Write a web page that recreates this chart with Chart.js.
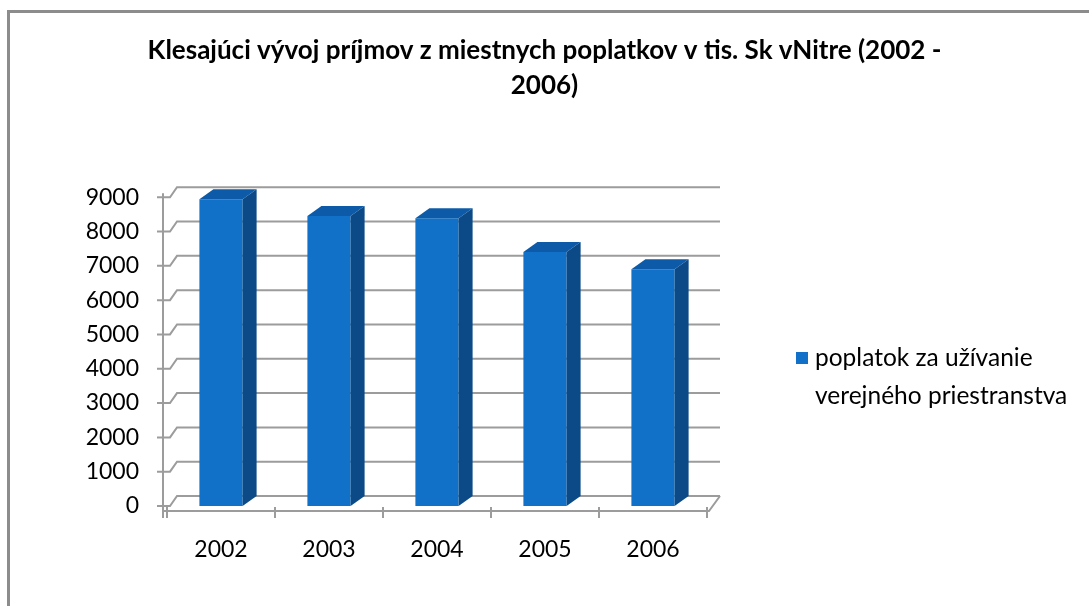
<!DOCTYPE html>
<html>
<head>
<meta charset="utf-8">
<script src="https://cdn.jsdelivr.net/npm/chart.js@4.4.0/dist/chart.umd.min.js"></script>
<style>
html, body { margin: 0; padding: 0; background: #fff; }
#wrap { position: relative; width: 1089px; height: 606px; overflow: hidden; }
#ram { position: absolute; left: 7px; top: 10px; width: 1200px; height: 700px;
       border-top: 3px solid #8c8c8c; border-left: 3px solid #8c8c8c; }
canvas { position: absolute; left: 0; top: 0; }
</style>
</head>
<body>
<div id="wrap">
	<canvas id="prijmy" width="1089" height="606"></canvas>
	<div id="ram"></div>
</div>
<script>
// udaje
const roky = ['2002', '2003', '2004', '2005', '2006'];
const poplatok = [8940, 8450, 8390, 7400, 6900];
const nazovRady = 'poplatok za užívanie verejného priestranstva';
const nadpis = ['Klesajúci vývoj príjmov z miestnych poplatkov v tis. Sk vNitre (2002 -', '2006)'];
const osMin = 0;
const osMax = 9000;
const osKrok = 1000;

const modra = '#1170c8';
const modraBok = '#0b4a86';
const modraVrch = '#0d5ba8';
const sediva = '#9c9c9c';
const pismo = 'Lato';

// zadna stena, bocna stena a podlaha
const stena = {
	id: 'stena',
	beforeDatasetsDraw(chart){
		const {ctx, chartArea: a, scales: {y}} = chart;
		ctx.save();
		ctx.strokeStyle = sediva;
		ctx.lineWidth = 2;
		y.ticks.forEach(t => {
			const py = y.getPixelForValue(t.value);
			ctx.beginPath();
			ctx.moveTo(a.left - 10, py);
			ctx.lineTo(a.left + 3, py);
			ctx.lineTo(a.left + 10, py - 10);
			ctx.lineTo(a.right + 13, py - 10);
			ctx.stroke();
		});
		// lavy okraj a podlaha
		ctx.beginPath();
		ctx.moveTo(a.left - 4, a.top - 4);
		ctx.lineTo(a.left - 4, a.bottom + 12);
		ctx.moveTo(a.left - 4, a.bottom + 5);
		ctx.lineTo(a.right + 2, a.bottom + 5);
		ctx.lineTo(a.right + 13, a.bottom - 10);
		ctx.stroke();
		// znacky kategorii
		const krok = a.width / roky.length;
		ctx.beginPath();
		for (let i = 0; i <= roky.length; i++) {
			const px = a.left + i * krok;
			ctx.moveTo(px, a.bottom + 1);
			ctx.lineTo(px, a.bottom + 12);
		}
		ctx.stroke();
		ctx.restore();
	}
};

// vrch a bok stlpcov
const kvader = {
	id: 'kvader',
	afterDatasetsDraw(chart){
		const {ctx} = chart;
		const dx = 14, dy = -10;
		ctx.save();
		chart.getDatasetMeta(0).data.forEach(bar => {
			const {x, y, base, width} = bar.getProps(['x', 'y', 'base', 'width'], true);
			const l = x - width / 2, r = x + width / 2;
			ctx.fillStyle = modraVrch;
			ctx.beginPath();
			ctx.moveTo(l, y);
			ctx.lineTo(r, y);
			ctx.lineTo(r + dx, y + dy);
			ctx.lineTo(l + dx, y + dy);
			ctx.closePath();
			ctx.fill();
			ctx.fillStyle = modraBok;
			ctx.beginPath();
			ctx.moveTo(r, y);
			ctx.lineTo(r + dx, y + dy);
			ctx.lineTo(r + dx, base + dy);
			ctx.lineTo(r, base);
			ctx.closePath();
			ctx.fill();
		});
		ctx.restore();
	}
};

// legenda s dvojriadkovym popisom
const legenda = {
	id: 'legenda',
	afterDraw(chart){
		const {ctx, chartArea: a} = chart;
		const ds = chart.data.datasets[0];
		const x = a.right + 89, y = 352;
		ctx.save();
		ctx.fillStyle = ds.backgroundColor;
		ctx.fillRect(x, y, 12, 12);
		ctx.font = '24.5px ' + pismo;
		ctx.fillStyle = '#000';
		ctx.textBaseline = 'middle';
		let riadky = [], riadok = '';
		ds.label.split(' ').forEach(slovo => {
			const skuska = riadok ? riadok + ' ' + slovo : slovo;
			if (riadok && ctx.measureText(skuska).width > 262) {
				riadky.push(riadok);
				riadok = slovo;
			} else {
				riadok = skuska;
			}
		});
		riadky.push(riadok);
		riadky.forEach((t, i) => ctx.fillText(t, x + 19, y + 6 + i * 38));
		ctx.restore();
	}
};

const ctx = document.getElementById('prijmy').getContext('2d');
const config = {
	type: 'bar',
	data: {
		labels: roky,
		datasets: [
			{
				label: nazovRady,
				data: poplatok,
				backgroundColor: modra,
				borderWidth: 0,
				barPercentage: 0.8,
				categoryPercentage: 0.5,
			},
		],
	},
	options: {
		responsive: false,
		animation: false,
		plugins: {
			legend: { display: false },
			tooltip: { enabled: false },
			title: {
				display: true,
				text: nadpis,
				color: '#000',
				font: { family: pismo, size: 26, weight: 'bold', lineHeight: 1.35 },
				padding: { top: 33, bottom: 94 },
			},
		},
		scales: {
			x: {
				grid: { display: false, drawTicks: false },
				border: { display: false },
				ticks: { color: '#000', font: { family: pismo, size: 23 }, padding: 30 },
				afterFit: function(s){ s.height = 100; },
			},
			y: {
				min: osMin,
				max: osMax,
				grid: { display: false, drawTicks: false },
				border: { display: false },
				ticks: {
					stepSize: osKrok,
					color: '#000',
					font: { family: pismo, size: 23 },
					padding: 28,
					callback: function(value){ return String(value); },
				},
				afterFit: function(s){ s.width = 167; },
			},
			// prazdny priestor vpravo pre legendu
			miesto: {
				position: 'right',
				grid: { display: false, drawTicks: false },
				border: { display: false },
				ticks: { display: false },
				afterFit: function(s){ s.width = 382; },
			},
		},
	},
	plugins: [stena, kvader, legenda],
};
const graf = new Chart(ctx, config);
</script>
</body>
</html>
